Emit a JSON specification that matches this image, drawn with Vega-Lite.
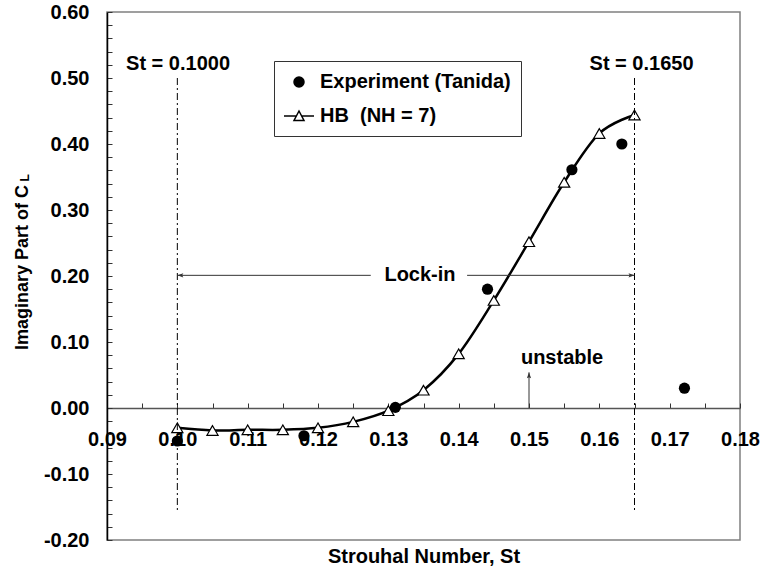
{
  "$schema": "https://vega.github.io/schema/vega-lite/v6.json",
  "width": 633,
  "height": 528,
  "autosize": {"type": "none"},
  "padding": {"left": 107, "top": 12, "right": 23, "bottom": 38},
  "background": "white",
  "config": {
    "font": "Liberation Sans",
    "view": {"stroke": "#808080", "strokeWidth": 1.5},
    "axisX": {
      "tickSize": -5, "tickColor": "#333333", "tickWidth": 1, "labelPadding": 26,
      "labelFlush": false, "labelOverlap": false, "grid": false,
      "domainColor": "#555555", "domainWidth": 1.5,
      "labelFontSize": 20, "labelFontWeight": "bold", "labelColor": "black",
      "titleFontSize": 20, "titleFontWeight": "bold", "titleColor": "black"
    },
    "axisY": {
      "tickSize": -5, "tickColor": "#333333", "tickWidth": 1, "labelPadding": 23,
      "labelFlush": false, "labelOverlap": false, "grid": false,
      "domainColor": "black", "domainWidth": 1.5,
      "labelFontSize": 20, "labelFontWeight": "bold", "labelColor": "black",
      "titleFontSize": 18, "titleFontWeight": "bold", "titleColor": "black"
    }
  },
  "data": {
    "values": [
      {"series": "HB\u00a0 (NH = 7)", "st": 0.100, "cl": -0.030},
      {"series": "HB\u00a0 (NH = 7)", "st": 0.105, "cl": -0.034},
      {"series": "HB\u00a0 (NH = 7)", "st": 0.110, "cl": -0.033},
      {"series": "HB\u00a0 (NH = 7)", "st": 0.115, "cl": -0.033},
      {"series": "HB\u00a0 (NH = 7)", "st": 0.120, "cl": -0.030},
      {"series": "HB\u00a0 (NH = 7)", "st": 0.125, "cl": -0.021},
      {"series": "HB\u00a0 (NH = 7)", "st": 0.130, "cl": -0.004},
      {"series": "HB\u00a0 (NH = 7)", "st": 0.135, "cl": 0.027},
      {"series": "HB\u00a0 (NH = 7)", "st": 0.140, "cl": 0.082},
      {"series": "HB\u00a0 (NH = 7)", "st": 0.145, "cl": 0.163},
      {"series": "HB\u00a0 (NH = 7)", "st": 0.150, "cl": 0.252},
      {"series": "HB\u00a0 (NH = 7)", "st": 0.155, "cl": 0.342},
      {"series": "HB\u00a0 (NH = 7)", "st": 0.160, "cl": 0.416},
      {"series": "HB\u00a0 (NH = 7)", "st": 0.165, "cl": 0.444},
      {"series": "Experiment (Tanida)", "st": 0.100, "cl": -0.050},
      {"series": "Experiment (Tanida)", "st": 0.118, "cl": -0.042},
      {"series": "Experiment (Tanida)", "st": 0.131, "cl": 0.001},
      {"series": "Experiment (Tanida)", "st": 0.1441, "cl": 0.180},
      {"series": "Experiment (Tanida)", "st": 0.1561, "cl": 0.361},
      {"series": "Experiment (Tanida)", "st": 0.1632, "cl": 0.400},
      {"series": "Experiment (Tanida)", "st": 0.1721, "cl": 0.030}
    ]
  },
  "layer": [
    {
      "transform": [{"filter": "indexof(datum.series, 'HB') === 0"}],
      "mark": {"type": "line", "interpolate": "cardinal", "color": "black", "strokeWidth": 2.5},
      "encoding": {
        "x": {"field": "st", "type": "quantitative", "scale": {"domain": [0.09, 0.18], "nice": false, "zero": false},
          "axis": {"title": "Strouhal Number, St", "offset": -132, "titleY": 148, "titleBaseline": "middle", "values": [0.09, 0.095, 0.1, 0.105, 0.11, 0.115, 0.12, 0.125, 0.13, 0.135, 0.14, 0.145, 0.15, 0.155, 0.16, 0.165, 0.17, 0.175, 0.18], "labelExpr": "round(datum.value*1000) % 10 == 0 ? format(datum.value, '.2f') : ''", "labelOverlap": false, "labelFlush": false}},
        "y": {"field": "cl", "type": "quantitative", "scale": {"domain": [-0.2, 0.6], "nice": false, "zero": false},
          "axis": {"title": "Imaginary Part of C", "titleX": -85, "titleY": 255, "titleBaseline": "middle", "values": [-0.2, -0.18, -0.16, -0.14, -0.12, -0.1, -0.08, -0.06, -0.04, -0.02, 0, 0.02, 0.04, 0.06, 0.08, 0.1, 0.12, 0.14, 0.16, 0.18, 0.2, 0.22, 0.24, 0.26, 0.28, 0.3, 0.32, 0.34, 0.36, 0.38, 0.4, 0.42, 0.44, 0.46, 0.48, 0.5, 0.52, 0.54, 0.56, 0.58, 0.6], "labelExpr": "abs(round(datum.value*100)) % 10 == 0 ? (datum.value < -0.001 ? '-' : '') + format(abs(datum.value), '.2f') : ''", "labelOverlap": false, "labelFlush": false}}
      }
    },
    {
      "transform": [{"filter": "indexof(datum.series, 'HB') === 0"}],
      "mark": {"type": "point", "shape": "triangle-up", "filled": true, "fill": "white", "stroke": "black", "strokeWidth": 1.2, "opacity": 1, "size": 125},
      "encoding": {
        "x": {"field": "st", "type": "quantitative", "scale": {"domain": [0.09, 0.18], "nice": false, "zero": false},
          "axis": {"title": "Strouhal Number, St", "offset": -132, "titleY": 148, "titleBaseline": "middle", "values": [0.09, 0.095, 0.1, 0.105, 0.11, 0.115, 0.12, 0.125, 0.13, 0.135, 0.14, 0.145, 0.15, 0.155, 0.16, 0.165, 0.17, 0.175, 0.18], "labelExpr": "round(datum.value*1000) % 10 == 0 ? format(datum.value, '.2f') : ''", "labelOverlap": false, "labelFlush": false}},
        "y": {"field": "cl", "type": "quantitative", "scale": {"domain": [-0.2, 0.6], "nice": false, "zero": false},
          "axis": {"title": "Imaginary Part of C", "titleX": -85, "titleY": 255, "titleBaseline": "middle", "values": [-0.2, -0.18, -0.16, -0.14, -0.12, -0.1, -0.08, -0.06, -0.04, -0.02, 0, 0.02, 0.04, 0.06, 0.08, 0.1, 0.12, 0.14, 0.16, 0.18, 0.2, 0.22, 0.24, 0.26, 0.28, 0.3, 0.32, 0.34, 0.36, 0.38, 0.4, 0.42, 0.44, 0.46, 0.48, 0.5, 0.52, 0.54, 0.56, 0.58, 0.6], "labelExpr": "abs(round(datum.value*100)) % 10 == 0 ? (datum.value < -0.001 ? '-' : '') + format(abs(datum.value), '.2f') : ''", "labelOverlap": false, "labelFlush": false}}
      }
    },
    {
      "transform": [{"filter": "datum.series === 'Experiment (Tanida)'"}],
      "mark": {"type": "point", "shape": "circle", "filled": true, "color": "black", "opacity": 1, "size": 125},
      "encoding": {
        "x": {"field": "st", "type": "quantitative", "scale": {"domain": [0.09, 0.18], "nice": false, "zero": false},
          "axis": {"title": "Strouhal Number, St", "offset": -132, "titleY": 148, "titleBaseline": "middle", "values": [0.09, 0.095, 0.1, 0.105, 0.11, 0.115, 0.12, 0.125, 0.13, 0.135, 0.14, 0.145, 0.15, 0.155, 0.16, 0.165, 0.17, 0.175, 0.18], "labelExpr": "round(datum.value*1000) % 10 == 0 ? format(datum.value, '.2f') : ''", "labelOverlap": false, "labelFlush": false}},
        "y": {"field": "cl", "type": "quantitative", "scale": {"domain": [-0.2, 0.6], "nice": false, "zero": false},
          "axis": {"title": "Imaginary Part of C", "titleX": -85, "titleY": 255, "titleBaseline": "middle", "values": [-0.2, -0.18, -0.16, -0.14, -0.12, -0.1, -0.08, -0.06, -0.04, -0.02, 0, 0.02, 0.04, 0.06, 0.08, 0.1, 0.12, 0.14, 0.16, 0.18, 0.2, 0.22, 0.24, 0.26, 0.28, 0.3, 0.32, 0.34, 0.36, 0.38, 0.4, 0.42, 0.44, 0.46, 0.48, 0.5, 0.52, 0.54, 0.56, 0.58, 0.6], "labelExpr": "abs(round(datum.value*100)) % 10 == 0 ? (datum.value < -0.001 ? '-' : '') + format(abs(datum.value), '.2f') : ''", "labelOverlap": false, "labelFlush": false}}
      }
    },
    {
      "mark": {"type": "point", "filled": true, "strokeWidth": 1.5, "opacity": 0, "size": 1},
      "encoding": {
        "x": {"field": "st", "type": "quantitative", "scale": {"domain": [0.09, 0.18], "nice": false, "zero": false},
          "axis": {"title": "Strouhal Number, St", "offset": -132, "titleY": 148, "titleBaseline": "middle", "values": [0.09, 0.095, 0.1, 0.105, 0.11, 0.115, 0.12, 0.125, 0.13, 0.135, 0.14, 0.145, 0.15, 0.155, 0.16, 0.165, 0.17, 0.175, 0.18], "labelExpr": "round(datum.value*1000) % 10 == 0 ? format(datum.value, '.2f') : ''", "labelOverlap": false, "labelFlush": false}},
        "y": {"field": "cl", "type": "quantitative", "scale": {"domain": [-0.2, 0.6], "nice": false, "zero": false},
          "axis": {"title": "Imaginary Part of C", "titleX": -85, "titleY": 255, "titleBaseline": "middle", "values": [-0.2, -0.18, -0.16, -0.14, -0.12, -0.1, -0.08, -0.06, -0.04, -0.02, 0, 0.02, 0.04, 0.06, 0.08, 0.1, 0.12, 0.14, 0.16, 0.18, 0.2, 0.22, 0.24, 0.26, 0.28, 0.3, 0.32, 0.34, 0.36, 0.38, 0.4, 0.42, 0.44, 0.46, 0.48, 0.5, 0.52, 0.54, 0.56, 0.58, 0.6], "labelExpr": "abs(round(datum.value*100)) % 10 == 0 ? (datum.value < -0.001 ? '-' : '') + format(abs(datum.value), '.2f') : ''", "labelOverlap": false, "labelFlush": false}},
        "shape": {
          "field": "series", "type": "nominal",
          "scale": {"domain": ["Experiment (Tanida)", "HB\u00a0 (NH = 7)"], "range": ["M0.5,0A0.5,0.5,0,1,1,-0.5,0A0.5,0.5,0,1,1,0.5,0Z", "M-1.5,0L-0.27,0M0.27,0L1.5,0M0,-0.5L0.5,0.45L-0.5,0.45Z"]},
          "legend": {"title": null, "orient": "none", "legendX": 167, "legendY": 49, "padding": 10, "symbolOffset": 4, "labelOffset": 10, "rowPadding": 13, "symbolSize": 400, "symbolOpacity": 1, "symbolStrokeWidth": 1.5, "labelLimit": 0, "labelFont": "Liberation Sans", "labelFontSize": 20, "labelFontWeight": "bold", "labelColor": "black", "strokeColor": "#333333", "fillColor": "white"}
        },
        "fill": {
          "field": "series", "type": "nominal",
          "scale": {"domain": ["Experiment (Tanida)", "HB\u00a0 (NH = 7)"], "range": ["black", "white"]},
          "legend": {"title": null, "orient": "none", "legendX": 167, "legendY": 49, "padding": 10, "symbolOffset": 4, "labelOffset": 10, "rowPadding": 13, "symbolSize": 400, "symbolOpacity": 1, "symbolStrokeWidth": 1.5, "labelLimit": 0, "labelFont": "Liberation Sans", "labelFontSize": 20, "labelFontWeight": "bold", "labelColor": "black", "strokeColor": "#333333", "fillColor": "white"}
        },
        "stroke": {
          "field": "series", "type": "nominal",
          "scale": {"domain": ["Experiment (Tanida)", "HB\u00a0 (NH = 7)"], "range": ["black", "black"]},
          "legend": {"title": null, "orient": "none", "legendX": 167, "legendY": 49, "padding": 10, "symbolOffset": 4, "labelOffset": 10, "rowPadding": 13, "symbolSize": 400, "symbolOpacity": 1, "symbolStrokeWidth": 1.5, "labelLimit": 0, "labelFont": "Liberation Sans", "labelFontSize": 20, "labelFontWeight": "bold", "labelColor": "black", "strokeColor": "#333333", "fillColor": "white"}
        }
      }
    },
    {
      "data": {"values": [{}]},
      "mark": {"type": "rule", "color": "black", "strokeWidth": 1, "strokeDash": [7, 3, 2, 3]},
      "encoding": {
        "x": {"datum": 0.1, "type": "quantitative", "scale": {"domain": [0.09, 0.18], "nice": false, "zero": false},
          "axis": {"title": "Strouhal Number, St", "offset": -132, "titleY": 148, "titleBaseline": "middle", "values": [0.09, 0.095, 0.1, 0.105, 0.11, 0.115, 0.12, 0.125, 0.13, 0.135, 0.14, 0.145, 0.15, 0.155, 0.16, 0.165, 0.17, 0.175, 0.18], "labelExpr": "round(datum.value*1000) % 10 == 0 ? format(datum.value, '.2f') : ''", "labelOverlap": false, "labelFlush": false}},
        "y": {"datum": 0.5, "type": "quantitative", "scale": {"domain": [-0.2, 0.6], "nice": false, "zero": false},
          "axis": {"title": "Imaginary Part of C", "titleX": -85, "titleY": 255, "titleBaseline": "middle", "values": [-0.2, -0.18, -0.16, -0.14, -0.12, -0.1, -0.08, -0.06, -0.04, -0.02, 0, 0.02, 0.04, 0.06, 0.08, 0.1, 0.12, 0.14, 0.16, 0.18, 0.2, 0.22, 0.24, 0.26, 0.28, 0.3, 0.32, 0.34, 0.36, 0.38, 0.4, 0.42, 0.44, 0.46, 0.48, 0.5, 0.52, 0.54, 0.56, 0.58, 0.6], "labelExpr": "abs(round(datum.value*100)) % 10 == 0 ? (datum.value < -0.001 ? '-' : '') + format(abs(datum.value), '.2f') : ''", "labelOverlap": false, "labelFlush": false}},
        "y2": {"datum": -0.155}
      }
    },
    {
      "data": {"values": [{}]},
      "mark": {"type": "rule", "color": "black", "strokeWidth": 1, "strokeDash": [7, 3, 2, 3]},
      "encoding": {
        "x": {"datum": 0.165, "type": "quantitative", "scale": {"domain": [0.09, 0.18], "nice": false, "zero": false},
          "axis": {"title": "Strouhal Number, St", "offset": -132, "titleY": 148, "titleBaseline": "middle", "values": [0.09, 0.095, 0.1, 0.105, 0.11, 0.115, 0.12, 0.125, 0.13, 0.135, 0.14, 0.145, 0.15, 0.155, 0.16, 0.165, 0.17, 0.175, 0.18], "labelExpr": "round(datum.value*1000) % 10 == 0 ? format(datum.value, '.2f') : ''", "labelOverlap": false, "labelFlush": false}},
        "y": {"datum": 0.5, "type": "quantitative", "scale": {"domain": [-0.2, 0.6], "nice": false, "zero": false},
          "axis": {"title": "Imaginary Part of C", "titleX": -85, "titleY": 255, "titleBaseline": "middle", "values": [-0.2, -0.18, -0.16, -0.14, -0.12, -0.1, -0.08, -0.06, -0.04, -0.02, 0, 0.02, 0.04, 0.06, 0.08, 0.1, 0.12, 0.14, 0.16, 0.18, 0.2, 0.22, 0.24, 0.26, 0.28, 0.3, 0.32, 0.34, 0.36, 0.38, 0.4, 0.42, 0.44, 0.46, 0.48, 0.5, 0.52, 0.54, 0.56, 0.58, 0.6], "labelExpr": "abs(round(datum.value*100)) % 10 == 0 ? (datum.value < -0.001 ? '-' : '') + format(abs(datum.value), '.2f') : ''", "labelOverlap": false, "labelFlush": false}},
        "y2": {"datum": -0.155}
      }
    },
    {
      "data": {"values": [{}]},
      "mark": {"type": "rule", "color": "#333333", "strokeWidth": 1},
      "encoding": {
        "x": {"datum": 0.1, "type": "quantitative", "scale": {"domain": [0.09, 0.18], "nice": false, "zero": false},
          "axis": {"title": "Strouhal Number, St", "offset": -132, "titleY": 148, "titleBaseline": "middle", "values": [0.09, 0.095, 0.1, 0.105, 0.11, 0.115, 0.12, 0.125, 0.13, 0.135, 0.14, 0.145, 0.15, 0.155, 0.16, 0.165, 0.17, 0.175, 0.18], "labelExpr": "round(datum.value*1000) % 10 == 0 ? format(datum.value, '.2f') : ''", "labelOverlap": false, "labelFlush": false}},
        "x2": {"datum": 0.1275},
        "y": {"datum": 0.201, "type": "quantitative", "scale": {"domain": [-0.2, 0.6], "nice": false, "zero": false},
          "axis": {"title": "Imaginary Part of C", "titleX": -85, "titleY": 255, "titleBaseline": "middle", "values": [-0.2, -0.18, -0.16, -0.14, -0.12, -0.1, -0.08, -0.06, -0.04, -0.02, 0, 0.02, 0.04, 0.06, 0.08, 0.1, 0.12, 0.14, 0.16, 0.18, 0.2, 0.22, 0.24, 0.26, 0.28, 0.3, 0.32, 0.34, 0.36, 0.38, 0.4, 0.42, 0.44, 0.46, 0.48, 0.5, 0.52, 0.54, 0.56, 0.58, 0.6], "labelExpr": "abs(round(datum.value*100)) % 10 == 0 ? (datum.value < -0.001 ? '-' : '') + format(abs(datum.value), '.2f') : ''", "labelOverlap": false, "labelFlush": false}}
      }
    },
    {
      "data": {"values": [{}]},
      "mark": {"type": "rule", "color": "#333333", "strokeWidth": 1},
      "encoding": {
        "x": {"datum": 0.1412, "type": "quantitative", "scale": {"domain": [0.09, 0.18], "nice": false, "zero": false},
          "axis": {"title": "Strouhal Number, St", "offset": -132, "titleY": 148, "titleBaseline": "middle", "values": [0.09, 0.095, 0.1, 0.105, 0.11, 0.115, 0.12, 0.125, 0.13, 0.135, 0.14, 0.145, 0.15, 0.155, 0.16, 0.165, 0.17, 0.175, 0.18], "labelExpr": "round(datum.value*1000) % 10 == 0 ? format(datum.value, '.2f') : ''", "labelOverlap": false, "labelFlush": false}},
        "x2": {"datum": 0.165},
        "y": {"datum": 0.201, "type": "quantitative", "scale": {"domain": [-0.2, 0.6], "nice": false, "zero": false},
          "axis": {"title": "Imaginary Part of C", "titleX": -85, "titleY": 255, "titleBaseline": "middle", "values": [-0.2, -0.18, -0.16, -0.14, -0.12, -0.1, -0.08, -0.06, -0.04, -0.02, 0, 0.02, 0.04, 0.06, 0.08, 0.1, 0.12, 0.14, 0.16, 0.18, 0.2, 0.22, 0.24, 0.26, 0.28, 0.3, 0.32, 0.34, 0.36, 0.38, 0.4, 0.42, 0.44, 0.46, 0.48, 0.5, 0.52, 0.54, 0.56, 0.58, 0.6], "labelExpr": "abs(round(datum.value*100)) % 10 == 0 ? (datum.value < -0.001 ? '-' : '') + format(abs(datum.value), '.2f') : ''", "labelOverlap": false, "labelFlush": false}}
      }
    },
    {
      "data": {"values": [{}]},
      "mark": {"type": "point", "filled": true, "color": "#333333", "opacity": 1, "size": 144, "shape": "M0,0L1,-0.35L0.8,0L1,0.35Z"},
      "encoding": {
        "x": {"datum": 0.1, "type": "quantitative", "scale": {"domain": [0.09, 0.18], "nice": false, "zero": false},
          "axis": {"title": "Strouhal Number, St", "offset": -132, "titleY": 148, "titleBaseline": "middle", "values": [0.09, 0.095, 0.1, 0.105, 0.11, 0.115, 0.12, 0.125, 0.13, 0.135, 0.14, 0.145, 0.15, 0.155, 0.16, 0.165, 0.17, 0.175, 0.18], "labelExpr": "round(datum.value*1000) % 10 == 0 ? format(datum.value, '.2f') : ''", "labelOverlap": false, "labelFlush": false}},
        "y": {"datum": 0.201, "type": "quantitative", "scale": {"domain": [-0.2, 0.6], "nice": false, "zero": false},
          "axis": {"title": "Imaginary Part of C", "titleX": -85, "titleY": 255, "titleBaseline": "middle", "values": [-0.2, -0.18, -0.16, -0.14, -0.12, -0.1, -0.08, -0.06, -0.04, -0.02, 0, 0.02, 0.04, 0.06, 0.08, 0.1, 0.12, 0.14, 0.16, 0.18, 0.2, 0.22, 0.24, 0.26, 0.28, 0.3, 0.32, 0.34, 0.36, 0.38, 0.4, 0.42, 0.44, 0.46, 0.48, 0.5, 0.52, 0.54, 0.56, 0.58, 0.6], "labelExpr": "abs(round(datum.value*100)) % 10 == 0 ? (datum.value < -0.001 ? '-' : '') + format(abs(datum.value), '.2f') : ''", "labelOverlap": false, "labelFlush": false}}
      }
    },
    {
      "data": {"values": [{}]},
      "mark": {"type": "point", "filled": true, "color": "#333333", "opacity": 1, "size": 144, "shape": "M0,0L-1,-0.35L-0.8,0L-1,0.35Z"},
      "encoding": {
        "x": {"datum": 0.165, "type": "quantitative", "scale": {"domain": [0.09, 0.18], "nice": false, "zero": false},
          "axis": {"title": "Strouhal Number, St", "offset": -132, "titleY": 148, "titleBaseline": "middle", "values": [0.09, 0.095, 0.1, 0.105, 0.11, 0.115, 0.12, 0.125, 0.13, 0.135, 0.14, 0.145, 0.15, 0.155, 0.16, 0.165, 0.17, 0.175, 0.18], "labelExpr": "round(datum.value*1000) % 10 == 0 ? format(datum.value, '.2f') : ''", "labelOverlap": false, "labelFlush": false}},
        "y": {"datum": 0.201, "type": "quantitative", "scale": {"domain": [-0.2, 0.6], "nice": false, "zero": false},
          "axis": {"title": "Imaginary Part of C", "titleX": -85, "titleY": 255, "titleBaseline": "middle", "values": [-0.2, -0.18, -0.16, -0.14, -0.12, -0.1, -0.08, -0.06, -0.04, -0.02, 0, 0.02, 0.04, 0.06, 0.08, 0.1, 0.12, 0.14, 0.16, 0.18, 0.2, 0.22, 0.24, 0.26, 0.28, 0.3, 0.32, 0.34, 0.36, 0.38, 0.4, 0.42, 0.44, 0.46, 0.48, 0.5, 0.52, 0.54, 0.56, 0.58, 0.6], "labelExpr": "abs(round(datum.value*100)) % 10 == 0 ? (datum.value < -0.001 ? '-' : '') + format(abs(datum.value), '.2f') : ''", "labelOverlap": false, "labelFlush": false}}
      }
    },
    {
      "data": {"values": [{}]},
      "mark": {"type": "rule", "color": "#333333", "strokeWidth": 1},
      "encoding": {
        "x": {"datum": 0.15, "type": "quantitative", "scale": {"domain": [0.09, 0.18], "nice": false, "zero": false},
          "axis": {"title": "Strouhal Number, St", "offset": -132, "titleY": 148, "titleBaseline": "middle", "values": [0.09, 0.095, 0.1, 0.105, 0.11, 0.115, 0.12, 0.125, 0.13, 0.135, 0.14, 0.145, 0.15, 0.155, 0.16, 0.165, 0.17, 0.175, 0.18], "labelExpr": "round(datum.value*1000) % 10 == 0 ? format(datum.value, '.2f') : ''", "labelOverlap": false, "labelFlush": false}},
        "y": {"datum": 0, "type": "quantitative", "scale": {"domain": [-0.2, 0.6], "nice": false, "zero": false},
          "axis": {"title": "Imaginary Part of C", "titleX": -85, "titleY": 255, "titleBaseline": "middle", "values": [-0.2, -0.18, -0.16, -0.14, -0.12, -0.1, -0.08, -0.06, -0.04, -0.02, 0, 0.02, 0.04, 0.06, 0.08, 0.1, 0.12, 0.14, 0.16, 0.18, 0.2, 0.22, 0.24, 0.26, 0.28, 0.3, 0.32, 0.34, 0.36, 0.38, 0.4, 0.42, 0.44, 0.46, 0.48, 0.5, 0.52, 0.54, 0.56, 0.58, 0.6], "labelExpr": "abs(round(datum.value*100)) % 10 == 0 ? (datum.value < -0.001 ? '-' : '') + format(abs(datum.value), '.2f') : ''", "labelOverlap": false, "labelFlush": false}},
        "y2": {"datum": 0.054}
      }
    },
    {
      "data": {"values": [{}]},
      "mark": {"type": "point", "filled": true, "color": "#333333", "opacity": 1, "size": 144, "shape": "M0,0L-0.35,1L0,0.8L0.35,1Z"},
      "encoding": {
        "x": {"datum": 0.15, "type": "quantitative", "scale": {"domain": [0.09, 0.18], "nice": false, "zero": false},
          "axis": {"title": "Strouhal Number, St", "offset": -132, "titleY": 148, "titleBaseline": "middle", "values": [0.09, 0.095, 0.1, 0.105, 0.11, 0.115, 0.12, 0.125, 0.13, 0.135, 0.14, 0.145, 0.15, 0.155, 0.16, 0.165, 0.17, 0.175, 0.18], "labelExpr": "round(datum.value*1000) % 10 == 0 ? format(datum.value, '.2f') : ''", "labelOverlap": false, "labelFlush": false}},
        "y": {"datum": 0.054, "type": "quantitative", "scale": {"domain": [-0.2, 0.6], "nice": false, "zero": false},
          "axis": {"title": "Imaginary Part of C", "titleX": -85, "titleY": 255, "titleBaseline": "middle", "values": [-0.2, -0.18, -0.16, -0.14, -0.12, -0.1, -0.08, -0.06, -0.04, -0.02, 0, 0.02, 0.04, 0.06, 0.08, 0.1, 0.12, 0.14, 0.16, 0.18, 0.2, 0.22, 0.24, 0.26, 0.28, 0.3, 0.32, 0.34, 0.36, 0.38, 0.4, 0.42, 0.44, 0.46, 0.48, 0.5, 0.52, 0.54, 0.56, 0.58, 0.6], "labelExpr": "abs(round(datum.value*100)) % 10 == 0 ? (datum.value < -0.001 ? '-' : '') + format(abs(datum.value), '.2f') : ''", "labelOverlap": false, "labelFlush": false}}
      }
    },
    {
      "data": {"values": [{}]},
      "mark": {"type": "text", "text": "Lock-in", "font": "Liberation Sans", "fontSize": 20, "fontWeight": "bold", "color": "black", "align": "center", "baseline": "alphabetic"},
      "encoding": {
        "x": {"datum": 0.1345, "type": "quantitative", "scale": {"domain": [0.09, 0.18], "nice": false, "zero": false},
          "axis": {"title": "Strouhal Number, St", "offset": -132, "titleY": 148, "titleBaseline": "middle", "values": [0.09, 0.095, 0.1, 0.105, 0.11, 0.115, 0.12, 0.125, 0.13, 0.135, 0.14, 0.145, 0.15, 0.155, 0.16, 0.165, 0.17, 0.175, 0.18], "labelExpr": "round(datum.value*1000) % 10 == 0 ? format(datum.value, '.2f') : ''", "labelOverlap": false, "labelFlush": false}},
        "y": {"datum": 0.192, "type": "quantitative", "scale": {"domain": [-0.2, 0.6], "nice": false, "zero": false},
          "axis": {"title": "Imaginary Part of C", "titleX": -85, "titleY": 255, "titleBaseline": "middle", "values": [-0.2, -0.18, -0.16, -0.14, -0.12, -0.1, -0.08, -0.06, -0.04, -0.02, 0, 0.02, 0.04, 0.06, 0.08, 0.1, 0.12, 0.14, 0.16, 0.18, 0.2, 0.22, 0.24, 0.26, 0.28, 0.3, 0.32, 0.34, 0.36, 0.38, 0.4, 0.42, 0.44, 0.46, 0.48, 0.5, 0.52, 0.54, 0.56, 0.58, 0.6], "labelExpr": "abs(round(datum.value*100)) % 10 == 0 ? (datum.value < -0.001 ? '-' : '') + format(abs(datum.value), '.2f') : ''", "labelOverlap": false, "labelFlush": false}}
      }
    },
    {
      "data": {"values": [{}]},
      "mark": {"type": "text", "text": "unstable", "font": "Liberation Sans", "fontSize": 20, "fontWeight": "bold", "color": "black", "align": "center", "baseline": "alphabetic"},
      "encoding": {
        "x": {"datum": 0.1547, "type": "quantitative", "scale": {"domain": [0.09, 0.18], "nice": false, "zero": false},
          "axis": {"title": "Strouhal Number, St", "offset": -132, "titleY": 148, "titleBaseline": "middle", "values": [0.09, 0.095, 0.1, 0.105, 0.11, 0.115, 0.12, 0.125, 0.13, 0.135, 0.14, 0.145, 0.15, 0.155, 0.16, 0.165, 0.17, 0.175, 0.18], "labelExpr": "round(datum.value*1000) % 10 == 0 ? format(datum.value, '.2f') : ''", "labelOverlap": false, "labelFlush": false}},
        "y": {"datum": 0.067, "type": "quantitative", "scale": {"domain": [-0.2, 0.6], "nice": false, "zero": false},
          "axis": {"title": "Imaginary Part of C", "titleX": -85, "titleY": 255, "titleBaseline": "middle", "values": [-0.2, -0.18, -0.16, -0.14, -0.12, -0.1, -0.08, -0.06, -0.04, -0.02, 0, 0.02, 0.04, 0.06, 0.08, 0.1, 0.12, 0.14, 0.16, 0.18, 0.2, 0.22, 0.24, 0.26, 0.28, 0.3, 0.32, 0.34, 0.36, 0.38, 0.4, 0.42, 0.44, 0.46, 0.48, 0.5, 0.52, 0.54, 0.56, 0.58, 0.6], "labelExpr": "abs(round(datum.value*100)) % 10 == 0 ? (datum.value < -0.001 ? '-' : '') + format(abs(datum.value), '.2f') : ''", "labelOverlap": false, "labelFlush": false}}
      }
    },
    {
      "data": {"values": [{}]},
      "mark": {"type": "text", "text": "St = 0.1000", "font": "Liberation Sans", "fontSize": 20, "fontWeight": "bold", "color": "black", "align": "center", "baseline": "alphabetic"},
      "encoding": {
        "x": {"datum": 0.1001, "type": "quantitative", "scale": {"domain": [0.09, 0.18], "nice": false, "zero": false},
          "axis": {"title": "Strouhal Number, St", "offset": -132, "titleY": 148, "titleBaseline": "middle", "values": [0.09, 0.095, 0.1, 0.105, 0.11, 0.115, 0.12, 0.125, 0.13, 0.135, 0.14, 0.145, 0.15, 0.155, 0.16, 0.165, 0.17, 0.175, 0.18], "labelExpr": "round(datum.value*1000) % 10 == 0 ? format(datum.value, '.2f') : ''", "labelOverlap": false, "labelFlush": false}},
        "y": {"datum": 0.512, "type": "quantitative", "scale": {"domain": [-0.2, 0.6], "nice": false, "zero": false},
          "axis": {"title": "Imaginary Part of C", "titleX": -85, "titleY": 255, "titleBaseline": "middle", "values": [-0.2, -0.18, -0.16, -0.14, -0.12, -0.1, -0.08, -0.06, -0.04, -0.02, 0, 0.02, 0.04, 0.06, 0.08, 0.1, 0.12, 0.14, 0.16, 0.18, 0.2, 0.22, 0.24, 0.26, 0.28, 0.3, 0.32, 0.34, 0.36, 0.38, 0.4, 0.42, 0.44, 0.46, 0.48, 0.5, 0.52, 0.54, 0.56, 0.58, 0.6], "labelExpr": "abs(round(datum.value*100)) % 10 == 0 ? (datum.value < -0.001 ? '-' : '') + format(abs(datum.value), '.2f') : ''", "labelOverlap": false, "labelFlush": false}}
      }
    },
    {
      "data": {"values": [{}]},
      "mark": {"type": "text", "text": "St = 0.1650", "font": "Liberation Sans", "fontSize": 20, "fontWeight": "bold", "color": "black", "align": "center", "baseline": "alphabetic"},
      "encoding": {
        "x": {"datum": 0.166, "type": "quantitative", "scale": {"domain": [0.09, 0.18], "nice": false, "zero": false},
          "axis": {"title": "Strouhal Number, St", "offset": -132, "titleY": 148, "titleBaseline": "middle", "values": [0.09, 0.095, 0.1, 0.105, 0.11, 0.115, 0.12, 0.125, 0.13, 0.135, 0.14, 0.145, 0.15, 0.155, 0.16, 0.165, 0.17, 0.175, 0.18], "labelExpr": "round(datum.value*1000) % 10 == 0 ? format(datum.value, '.2f') : ''", "labelOverlap": false, "labelFlush": false}},
        "y": {"datum": 0.512, "type": "quantitative", "scale": {"domain": [-0.2, 0.6], "nice": false, "zero": false},
          "axis": {"title": "Imaginary Part of C", "titleX": -85, "titleY": 255, "titleBaseline": "middle", "values": [-0.2, -0.18, -0.16, -0.14, -0.12, -0.1, -0.08, -0.06, -0.04, -0.02, 0, 0.02, 0.04, 0.06, 0.08, 0.1, 0.12, 0.14, 0.16, 0.18, 0.2, 0.22, 0.24, 0.26, 0.28, 0.3, 0.32, 0.34, 0.36, 0.38, 0.4, 0.42, 0.44, 0.46, 0.48, 0.5, 0.52, 0.54, 0.56, 0.58, 0.6], "labelExpr": "abs(round(datum.value*100)) % 10 == 0 ? (datum.value < -0.001 ? '-' : '') + format(abs(datum.value), '.2f') : ''", "labelOverlap": false, "labelFlush": false}}
      }
    },
    {
      "data": {"values": [{}]},
      "mark": {"type": "text", "text": "L", "font": "Liberation Sans", "fontSize": 12, "fontWeight": "bold", "color": "black", "align": "center", "baseline": "middle", "angle": 270},
      "encoding": {
        "x": {"datum": 0.0784, "type": "quantitative", "scale": {"domain": [0.09, 0.18], "nice": false, "zero": false},
          "axis": {"title": "Strouhal Number, St", "offset": -132, "titleY": 148, "titleBaseline": "middle", "values": [0.09, 0.095, 0.1, 0.105, 0.11, 0.115, 0.12, 0.125, 0.13, 0.135, 0.14, 0.145, 0.15, 0.155, 0.16, 0.165, 0.17, 0.175, 0.18], "labelExpr": "round(datum.value*1000) % 10 == 0 ? format(datum.value, '.2f') : ''", "labelOverlap": false, "labelFlush": false}},
        "y": {"datum": 0.3488, "type": "quantitative", "scale": {"domain": [-0.2, 0.6], "nice": false, "zero": false},
          "axis": {"title": "Imaginary Part of C", "titleX": -85, "titleY": 255, "titleBaseline": "middle", "values": [-0.2, -0.18, -0.16, -0.14, -0.12, -0.1, -0.08, -0.06, -0.04, -0.02, 0, 0.02, 0.04, 0.06, 0.08, 0.1, 0.12, 0.14, 0.16, 0.18, 0.2, 0.22, 0.24, 0.26, 0.28, 0.3, 0.32, 0.34, 0.36, 0.38, 0.4, 0.42, 0.44, 0.46, 0.48, 0.5, 0.52, 0.54, 0.56, 0.58, 0.6], "labelExpr": "abs(round(datum.value*100)) % 10 == 0 ? (datum.value < -0.001 ? '-' : '') + format(abs(datum.value), '.2f') : ''", "labelOverlap": false, "labelFlush": false}}
      }
    }
  ]
}
